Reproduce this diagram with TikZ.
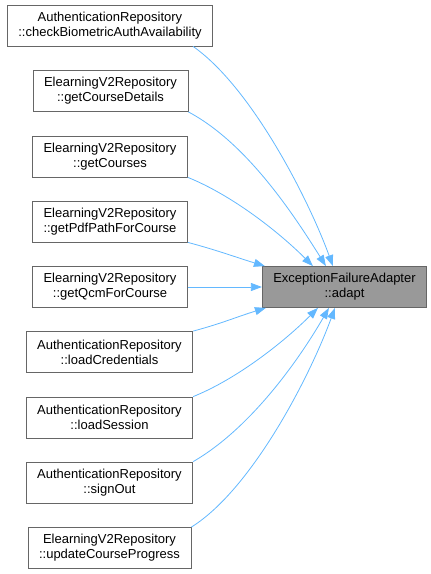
\documentclass[tikz,border=0pt]{standalone}
\usepackage{fontspec}
\setmainfont{Liberation Sans}
\usetikzlibrary{arrows.meta}
\definecolor{Sky}{rgb}{0.388, 0.722, 1.0}
\definecolor{Gray40}{rgb}{0.4, 0.4, 0.4}
\definecolor{Gray60}{rgb}{0.6, 0.6, 0.6}

\begin{document}
\begin{tikzpicture}[x=1pt, y=-1pt,
    fn/.style={draw=Gray40, fill=white, line width=0.8pt, minimum height=41pt,
      inner xsep=11pt, inner ysep=0pt, align=center,
      font=\fontsize{13}{15}\selectfont},
    fnsel/.style={fn, fill=Gray60},
    call/.style={Sky, line width=0.8pt, -{Triangle[length=11pt,width=8pt]}}]

  \useasboundingbox (0,0) rectangle (431,574);

  % -------------------------------------------------------
  % Callers (left column)
  % -------------------------------------------------------
  \node[fn] (checkBio)   at (110, 25.5)  {AuthenticationRepository\\::checkBiometricAuthAvailability};
  \node[fn] (getDetails) at (110.5, 91)  {ElearningV2Repository\\::getCourseDetails};
  \node[fn] (getCourses) at (110, 156.5) {ElearningV2Repository\\::getCourses};
  \node[fn] (getPdf)     at (110, 221.5) {ElearningV2Repository\\::getPdfPathForCourse};
  \node[fn] (getQcm)     at (110, 287)   {ElearningV2Repository\\::getQcmForCourse};
  \node[fn] (loadCred)   at (109.5, 352) {AuthenticationRepository\\::loadCredentials};
  \node[fn] (loadSess)   at (109.5, 417.5) {AuthenticationRepository\\::loadSession};
  \node[fn] (signOut)    at (109.5, 482.5) {AuthenticationRepository\\::signOut};
  \node[fn] (updProg)    at (109.5, 548) {ElearningV2Repository\\::updateCourseProgress};

  % -------------------------------------------------------
  % Callee (highlighted)
  % -------------------------------------------------------
  \node[fnsel] (adapt) at (344.5, 287) {ExceptionFailureAdapter\\::adapt};

  % -------------------------------------------------------
  % Call edges, upper half fans into the top side
  % -------------------------------------------------------
  \draw[call] ([xshift=-20pt]checkBio.south east)
    to[out=-35, in=110, looseness=0.7] ([xshift=71pt]adapt.north west);
  \draw[call] (getDetails.south east)
    to[out=-28, in=122, looseness=0.8] ([xshift=64pt]adapt.north west);
  \draw[call] (getCourses.south east)
    to[out=-22, in=135, looseness=0.8] ([xshift=51pt]adapt.north west);
  \draw[call] (getPdf.south east)
    to[out=-15, in=163] ([xshift=3pt]adapt.north west);

  % straight one
  \draw[call] (getQcm.east) -- (adapt.west);

  % -------------------------------------------------------
  % Call edges, lower half fans into the bottom side
  % -------------------------------------------------------
  \draw[call] (loadCred.north east)
    to[out=15, in=-163] ([xshift=4pt]adapt.south west);
  \draw[call] (loadSess.north east)
    to[out=22, in=-135, looseness=0.8] ([xshift=56pt]adapt.south west);
  \draw[call] (signOut.north east)
    to[out=30, in=-120, looseness=0.8] ([xshift=67pt]adapt.south west);
  \draw[call] (updProg.north east)
    to[out=32, in=-110, looseness=0.7] ([xshift=73pt]adapt.south west);

\end{tikzpicture}
\end{document}
